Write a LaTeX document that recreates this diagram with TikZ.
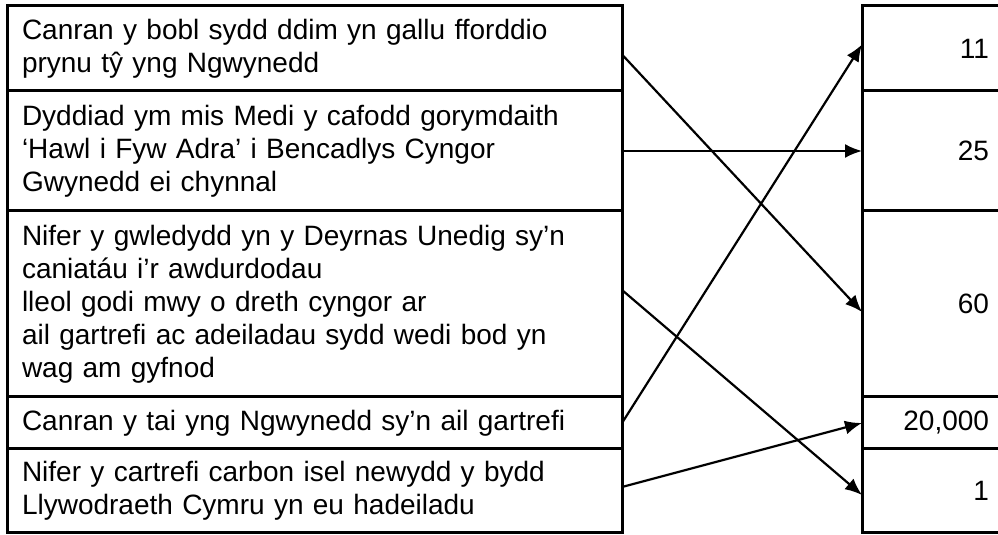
\documentclass[tikz,border=0pt]{standalone}
\usepackage{fontspec}
\setmainfont{Liberation Sans}[Ligatures=NoCommon]
\usetikzlibrary{positioning}
\usetikzlibrary{arrows.meta}

\begin{document}
\begin{tikzpicture}[x=1pt, y=1pt,
  cell/.style = {shape=rectangle, draw, line width=3pt, outer sep=0pt,
    inner ysep=0pt, font=\fontsize{28}{33}\selectfont},
  fact/.style = {cell, minimum width=614.5pt, text width=585.5pt,
    inner xsep=14.5pt, align=left},
  number/.style = {cell, minimum width=140pt, text width=114pt,
    inner xsep=13pt, align=right},
  link/.style = {line width=2.2pt, -{Latex[length=17pt, width=14pt]}}]
  \useasboundingbox (0,0) rectangle (998,535);
  \clip (0,0) rectangle (998,535);
  % left column
  \node[fact, minimum height=85pt, anchor=north west] (canran) at (7.5,529)
    {Canran y bobl sydd ddim yn gallu fforddio\\ prynu tŷ yng Ngwynedd};
  \node[fact, minimum height=120pt, below=0pt of canran] (dyddiad)
    {Dyddiad ym mis Medi y cafodd gorymdaith\\ ‘Hawl i Fyw Adra’ i Bencadlys Cyngor\\
     Gwynedd ei chynnal};
  \node[fact, minimum height=186pt, below=0pt of dyddiad] (gwledydd)
    {Nifer y gwledydd yn y Deyrnas Unedig sy’n\\ caniatáu i’r awdurdodau\\
     lleol godi mwy o dreth cyngor ar\\ ail gartrefi ac adeiladau sydd wedi bod yn\\
     wag am gyfnod};
  \node[fact, minimum height=52pt, below=0pt of gwledydd] (tai)
    {Canran y tai yng Ngwynedd sy’n ail gartrefi};
  \node[fact, minimum height=84pt, below=0pt of tai] (cartrefi)
    {Nifer y cartrefi carbon isel newydd y bydd\\ Llywodraeth Cymru yn eu hadeiladu};
  % right column
  \node[number, minimum height=85pt, anchor=north west] (n11) at (862,529) {11};
  \node[number, minimum height=120pt, below=0pt of n11] (n25) {25};
  \node[number, minimum height=186pt, below=0pt of n25] (n60) {60};
  \node[number, minimum height=52pt, below=0pt of n60] (n20000) {20,000};
  \node[number, minimum height=84pt, below=0pt of n20000] (n1) {1};
  % links
  \draw[link] ([yshift=-6pt]canran.east) -- ([yshift=-8pt]n60.west);
  \draw[link] (dyddiad.east) -- (n25.west);
  \draw[link] ([yshift=14pt]gwledydd.east) -- ([yshift=-4pt]n1.west);
  \draw[link] (tai.east) -- ([yshift=4pt]n11.west);
  \draw[link] ([yshift=4pt]cartrefi.east) -- (n20000.west);
\end{tikzpicture}
\end{document}
